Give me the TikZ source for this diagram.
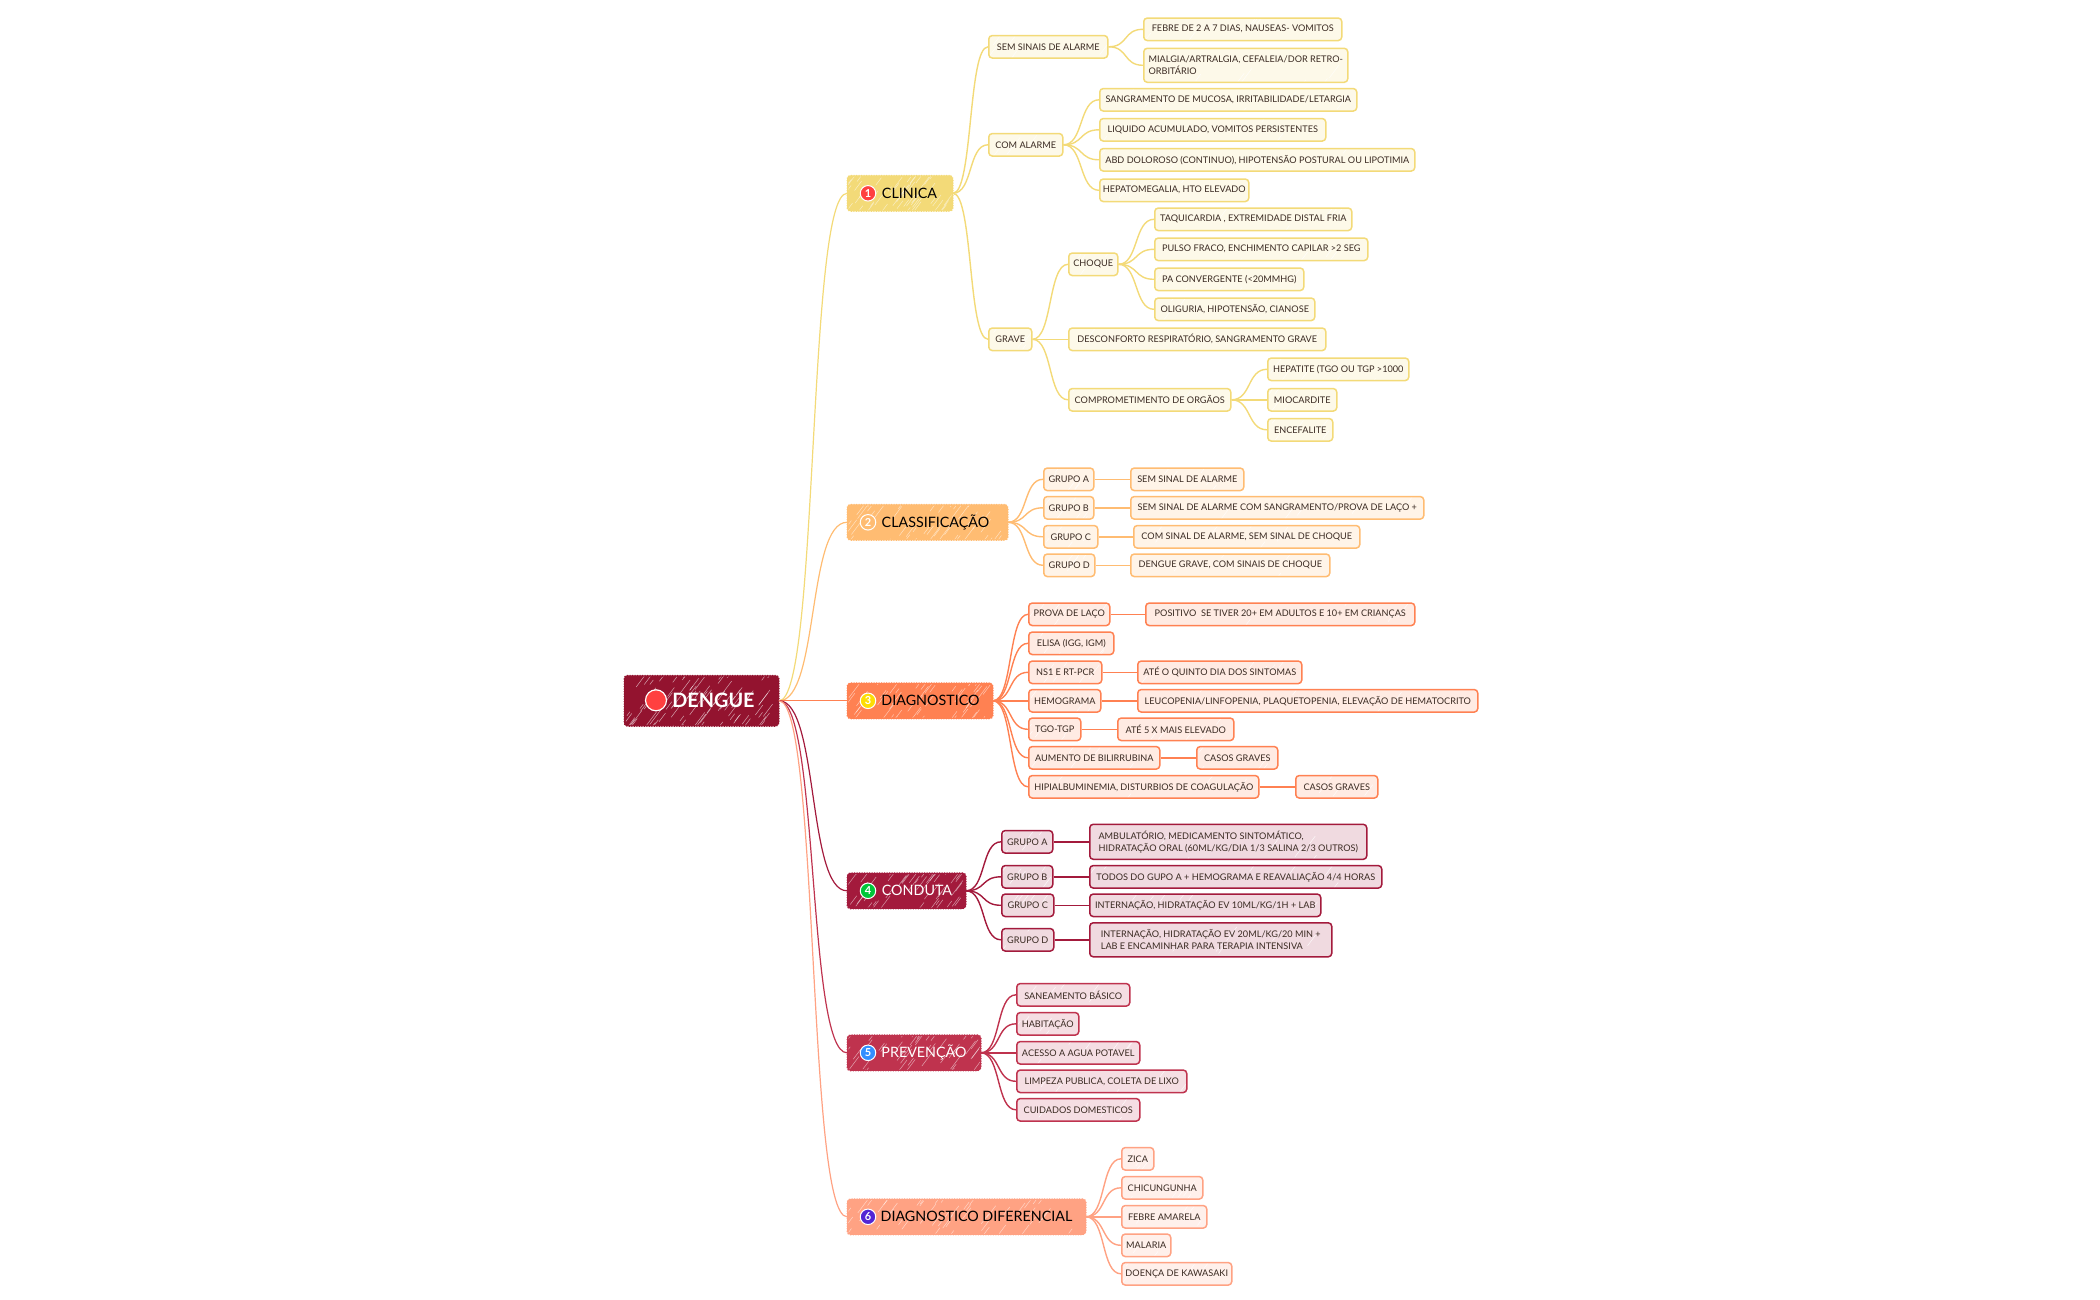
\documentclass[tikz,border=0pt]{standalone}
\usepackage{fontspec}
\setmainfont{Lato}
\usetikzlibrary{calc}
\definecolor{clinicacol}{HTML}{F3DA78}
\definecolor{classifcol}{HTML}{FFBC72}
\definecolor{diagcol}{HTML}{FF8152}
\definecolor{dengcol}{HTML}{93132F}
\definecolor{condcol}{HTML}{A31A3C}
\definecolor{prevcol}{HTML}{BF334E}
\definecolor{difcol}{HTML}{FFA283}
\definecolor{inkcol}{HTML}{3A2A22}
\newcommand{\streaks}[3]{%
  \foreach \n in {1,...,#1}{%
    \pgfmathsetmacro{\sx}{rnd}%
    \pgfmathsetmacro{\sy}{10-rnd*#3}%
    \pgfmathsetmacro{\sl}{5+rnd*14}%
    \draw[white,opacity=#2,line width=.5pt]
      ($(path picture bounding box.south west)!\sx!(path picture bounding box.south east)+(-8,\sy)$)
      -- ++(\sl*.6,-\sl*.8);
  }}
\tikzset{
  rootbox/.style={draw=#1,fill=#1,line width=1pt,rounded corners=3pt,minimum width=154pt,
    minimum height=50pt,anchor=west,text=white,font=\fontsize{19.8}{22}\selectfont\bfseries,
    postaction={draw=#1,line width=2pt,dash pattern=on 1pt off 1.5pt},
    path picture={\streaks{90}{.6}{60}}},
  topicbox/.style={draw=#1,fill=#1,line width=1pt,rounded corners=3pt,minimum height=35pt,
    anchor=west,text=black,font=\fontsize{14.3}{16}\selectfont,
    postaction={draw=#1,line width=2pt,dash pattern=on 1pt off 1.5pt},
    path picture={\streaks{60}{.55}{50}}},
  darktopic/.style={topicbox=#1,text=white},
  leafbox/.style={draw=#1,fill=#1!16,line width=1.5pt,rounded corners=3.5pt,minimum height=22.5pt,
    inner xsep=3pt,inner ysep=1pt,anchor=west,align=left,text=inkcol,
    font=\fontsize{9.15}{12}\selectfont,path picture={\streaks{6}{.8}{30}}},
  iconball/.style={circle,fill=#1,draw=white,line width=1pt,minimum size=15.5pt,inner sep=0pt,
    text=white,font=\fontsize{11}{11}\selectfont\bfseries},
  limb/.style={#1,line width=1.2pt,out=0,in=180,distance=40pt},
  twig/.style={#1,line width=1.4pt,out=0,in=180,distance=20pt}
}
\begin{document}
\begin{tikzpicture}[x=1pt,y=-1pt]
  \useasboundingbox (0,-1.3) rectangle (2100,1298.7);
  \pgfmathsetseed{41}
  % centre
  \node[rootbox=dengcol] (dengue) at (624,699.5) {\hspace{24pt}DENGUE};
  \node[iconball=red!75!white,minimum size=21pt,line width=1.2pt] (dengueicon) at (656,699) {};
  % clinica
  \node[topicbox=clinicacol,minimum width=105pt] (clinica) at (847,192) {\hspace{19pt}CLINICA};
  \node[iconball=red!75!white] (clinicaicon) at (868,192) {1};
  \node[leafbox=clinicacol,minimum width=119pt] (semsinais) at (988,45.5) {SEM SINAIS DE ALARME};
  \node[leafbox=clinicacol,minimum width=198pt] (febre) at (1143,28) {FEBRE DE 2 A 7 DIAS, NAUSEAS- VOMITOS};
  \node[leafbox=clinicacol,minimum width=204pt,minimum height=34pt] (mialgia) at (1143,64) {MIALGIA/ARTRALGIA, CEFALEIA/DOR RETRO-\\ORBITÁRIO};
  \node[leafbox=clinicacol,minimum width=74pt] (comalarme) at (988,143.5) {COM ALARME};
  \node[leafbox=clinicacol,minimum width=257pt] (sangramento) at (1099,98.5) {SANGRAMENTO DE MUCOSA, IRRITABILIDADE/LETARGIA};
  \node[leafbox=clinicacol,minimum width=226pt] (liquido) at (1099,128.5) {LIQUIDO ACUMULADO, VOMITOS PERSISTENTES};
  \node[leafbox=clinicacol,minimum width=315pt] (abd) at (1099,158.5) {ABD DOLOROSO (CONTINUO), HIPOTENSÃO POSTURAL OU LIPOTIMIA};
  \node[leafbox=clinicacol,minimum width=149pt] (hepato) at (1099,189) {HEPATOMEGALIA, HTO ELEVADO};
  \node[leafbox=clinicacol,minimum width=43pt] (grave) at (988,338) {GRAVE};
  \node[leafbox=clinicacol,minimum width=49pt] (choque) at (1068,263) {CHOQUE};
  \node[leafbox=clinicacol,minimum width=197pt] (taqui) at (1154,218) {TAQUICARDIA , EXTREMIDADE DISTAL FRIA};
  \node[leafbox=clinicacol,minimum width=213pt] (pulso) at (1154,248) {PULSO FRACO, ENCHIMENTO CAPILAR >2 SEG};
  \node[leafbox=clinicacol,minimum width=149pt] (pa) at (1154,278) {PA CONVERGENTE (<20MMHG)};
  \node[leafbox=clinicacol,minimum width=160pt] (oliguria) at (1154,308) {OLIGURIA, HIPOTENSÃO, CIANOSE};
  \node[leafbox=clinicacol,minimum width=257pt] (desconforto) at (1068,338) {DESCONFORTO RESPIRATÓRIO, SANGRAMENTO GRAVE};
  \node[leafbox=clinicacol,minimum width=162pt] (orgaos) at (1068,398.5) {COMPROMETIMENTO DE ORGÃOS};
  \node[leafbox=clinicacol,minimum width=141pt] (hepatite) at (1267,368) {HEPATITE (TGO OU TGP >1000};
  \node[leafbox=clinicacol,minimum width=69pt] (miocardite) at (1267,398.5) {MIOCARDITE};
  \node[leafbox=clinicacol,minimum width=65pt] (encefalite) at (1267,428.5) {ENCEFALITE};
  \draw[limb=clinicacol] (dengue.east) to (clinica.west);
  \foreach \a/\b in {clinica/semsinais,clinica/comalarme,clinica/grave,semsinais/febre,semsinais/mialgia,
    comalarme/sangramento,comalarme/liquido,comalarme/abd,comalarme/hepato,grave/choque,grave/desconforto,
    grave/orgaos,choque/taqui,choque/pulso,choque/pa,choque/oliguria,orgaos/hepatite,orgaos/miocardite,orgaos/encefalite}
    \draw[twig=clinicacol] (\a.east) to (\b.west);
  % classificacao
  \node[topicbox=classifcol,minimum width=160pt] (classif) at (847,521) {\hspace{16pt}CLASSIFICAÇÃO};
  \node[iconball=classifcol] (classificon) at (868,521) {2};
  \node[leafbox=classifcol,minimum width=50pt] (cgrupoa) at (1043,478) {GRUPO A};
  \node[leafbox=classifcol,minimum width=50pt] (cgrupob) at (1043,506.5) {GRUPO B};
  \node[leafbox=classifcol,minimum width=54pt] (cgrupoc) at (1043,535.5) {GRUPO C};
  \node[leafbox=classifcol,minimum width=51pt] (cgrupod) at (1043,564) {GRUPO D};
  \node[leafbox=classifcol,minimum width=113pt] (csinala) at (1130,478) {SEM SINAL DE ALARME};
  \node[leafbox=classifcol,minimum width=293pt] (csinalb) at (1130,506.5) {SEM SINAL DE ALARME COM SANGRAMENTO/PROVA DE LAÇO +};
  \node[leafbox=classifcol,minimum width=226pt] (csinalc) at (1133,535.5) {COM SINAL DE ALARME, SEM SINAL DE CHOQUE};
  \node[leafbox=classifcol,minimum width=199pt] (csinald) at (1130,564) {DENGUE GRAVE, COM SINAIS DE CHOQUE};
  \draw[limb=classifcol] (dengue.east) to (classif.west);
  \foreach \a/\b in {classif/cgrupoa,classif/cgrupob,classif/cgrupoc,classif/cgrupod,cgrupoa/csinala,
    cgrupob/csinalb,cgrupoc/csinalc,cgrupod/csinald}
    \draw[twig=classifcol] (\a.east) to (\b.west);
  % diagnostico
  \node[topicbox=diagcol,minimum width=145pt] (diag) at (847,699.5) {\hspace{21pt}DIAGNOSTICO};
  \node[iconball=yellow!80!orange] (diagicon) at (868,699.5) {3};
  \node[leafbox=diagcol,minimum width=81pt] (prova) at (1028,613) {PROVA DE LAÇO};
  \node[leafbox=diagcol,minimum width=85pt] (elisa) at (1028,642) {ELISA (IGG, IGM)};
  \node[leafbox=diagcol,minimum width=73pt] (nsone) at (1028,671) {NS1 E RT-PCR};
  \node[leafbox=diagcol,minimum width=72pt] (hemograma) at (1028,699.5) {HEMOGRAMA};
  \node[leafbox=diagcol,minimum width=52pt] (tgo) at (1028,728) {TGO-TGP};
  \node[leafbox=diagcol,minimum width=131pt] (aumento) at (1028,756.5) {AUMENTO DE BILIRRUBINA};
  \node[leafbox=diagcol,minimum width=230pt] (hipial) at (1028,785.5) {HIPIALBUMINEMIA, DISTURBIOS DE COAGULAÇÃO};
  \node[leafbox=diagcol,minimum width=269pt] (positivo) at (1145,613) {POSITIVO\ \ SE TIVER 20+ EM ADULTOS E 10+ EM CRIANÇAS};
  \node[leafbox=diagcol,minimum width=164pt] (quinto) at (1137,671) {ATÉ O QUINTO DIA DOS SINTOMAS};
  \node[leafbox=diagcol,minimum width=340pt] (leuco) at (1137,699.5) {LEUCOPENIA/LINFOPENIA, PLAQUETOPENIA, ELEVAÇÃO DE HEMATOCRITO};
  \node[leafbox=diagcol,minimum width=116pt] (cincox) at (1117,728) {ATÉ 5 X MAIS ELEVADO};
  \node[leafbox=diagcol,minimum width=81pt] (casosa) at (1196,756.5) {CASOS GRAVES};
  \node[leafbox=diagcol,minimum width=82pt] (casosb) at (1295,785.5) {CASOS GRAVES};
  \draw[limb=diagcol] (dengue.east) to (diag.west);
  \foreach \a/\b in {diag/prova,diag/elisa,diag/nsone,diag/hemograma,diag/tgo,diag/aumento,diag/hipial,
    prova/positivo,nsone/quinto,hemograma/leuco,tgo/cincox,aumento/casosa,hipial/casosb}
    \draw[twig=diagcol] (\a.east) to (\b.west);
  % conduta
  \node[darktopic=condcol,minimum width=118pt] (conduta) at (847,889.5) {\hspace{21pt}CONDUTA};
  \node[iconball=green!55!teal] (condutaicon) at (868,889.5) {4};
  \node[leafbox=condcol,minimum width=51pt] (dgrupoa) at (1001,840.5) {GRUPO A};
  \node[leafbox=condcol,minimum width=51pt] (dgrupob) at (1001,875.5) {GRUPO B};
  \node[leafbox=condcol,minimum width=52pt] (dgrupoc) at (1001,904) {GRUPO C};
  \node[leafbox=condcol,minimum width=52pt] (dgrupod) at (1001,938.5) {GRUPO D};
  \node[leafbox=condcol,minimum width=277pt,minimum height=35pt] (ambulat) at (1089,840.5) {AMBULATÓRIO, MEDICAMENTO SINTOMÁTICO,\\HIDRATAÇÃO ORAL (60ML/KG/DIA 1/3 SALINA 2/3 OUTROS)};
  \node[leafbox=condcol,minimum width=292pt] (todos) at (1089,875.5) {TODOS DO GUPO A + HEMOGRAMA E REAVALIAÇÃO 4/4 HORAS};
  \node[leafbox=condcol,minimum width=231pt] (internc) at (1089,904) {INTERNAÇÃO, HIDRATAÇÃO EV 10ML/KG/1H + LAB};
  \node[leafbox=condcol,minimum width=242pt,minimum height=34pt] (internd) at (1089,938.5) {INTERNAÇÃO, HIDRATAÇÃO EV 20ML/KG/20 MIN +\\LAB E ENCAMINHAR PARA TERAPIA INTENSIVA};
  \draw[limb=condcol] (dengue.east) to (conduta.west);
  \foreach \a/\b in {conduta/dgrupoa,conduta/dgrupob,conduta/dgrupoc,conduta/dgrupod,dgrupoa/ambulat,
    dgrupob/todos,dgrupoc/internc,dgrupod/internd}
    \draw[twig=condcol] (\a.east) to (\b.west);
  % prevencao
  \node[darktopic=prevcol,minimum width=133pt] (prev) at (847,1051.5) {\hspace{20pt}PREVENÇÃO};
  \node[iconball=blue!55!cyan!80!white] (previcon) at (868,1051.5) {5};
  \node[leafbox=prevcol,minimum width=113pt] (saneam) at (1016,993.5) {SANEAMENTO BÁSICO};
  \node[leafbox=prevcol,minimum width=62pt] (habit) at (1016,1022.5) {HABITAÇÃO};
  \node[leafbox=prevcol,minimum width=123pt] (acesso) at (1016,1051.5) {ACESSO A AGUA POTAVEL};
  \node[leafbox=prevcol,minimum width=170pt] (limpeza) at (1016,1080) {LIMPEZA PUBLICA, COLETA DE LIXO};
  \node[leafbox=prevcol,minimum width=123pt] (cuidados) at (1016,1108.5) {CUIDADOS DOMESTICOS};
  \draw[limb=prevcol] (dengue.east) to (prev.west);
  \foreach \b in {saneam,habit,acesso,limpeza,cuidados}
    \draw[twig=prevcol] (prev.east) to (\b.west);
  % diferencial
  \node[topicbox=difcol,minimum width=238pt] (dif) at (847,1215.5) {\hspace{20pt}DIAGNOSTICO DIFERENCIAL};
  \node[iconball=blue!60!violet!85!white] (dificon) at (868,1215.5) {6};
  \node[leafbox=difcol,minimum width=32pt] (zica) at (1121,1157.5) {ZICA};
  \node[leafbox=difcol,minimum width=81pt] (chicun) at (1121,1186.5) {CHICUNGUNHA};
  \node[leafbox=difcol,minimum width=85pt] (amarela) at (1121,1215.5) {FEBRE AMARELA};
  \node[leafbox=difcol,minimum width=49pt] (malaria) at (1121,1244) {MALARIA};
  \node[leafbox=difcol,minimum width=110pt] (kawasaki) at (1121,1272.5) {DOENÇA DE KAWASAKI};
  \draw[limb=difcol] (dengue.east) to (dif.west);
  \foreach \b in {zica,chicun,amarela,malaria,kawasaki}
    \draw[twig=difcol] (dif.east) to (\b.west);
\end{tikzpicture}
\end{document}
